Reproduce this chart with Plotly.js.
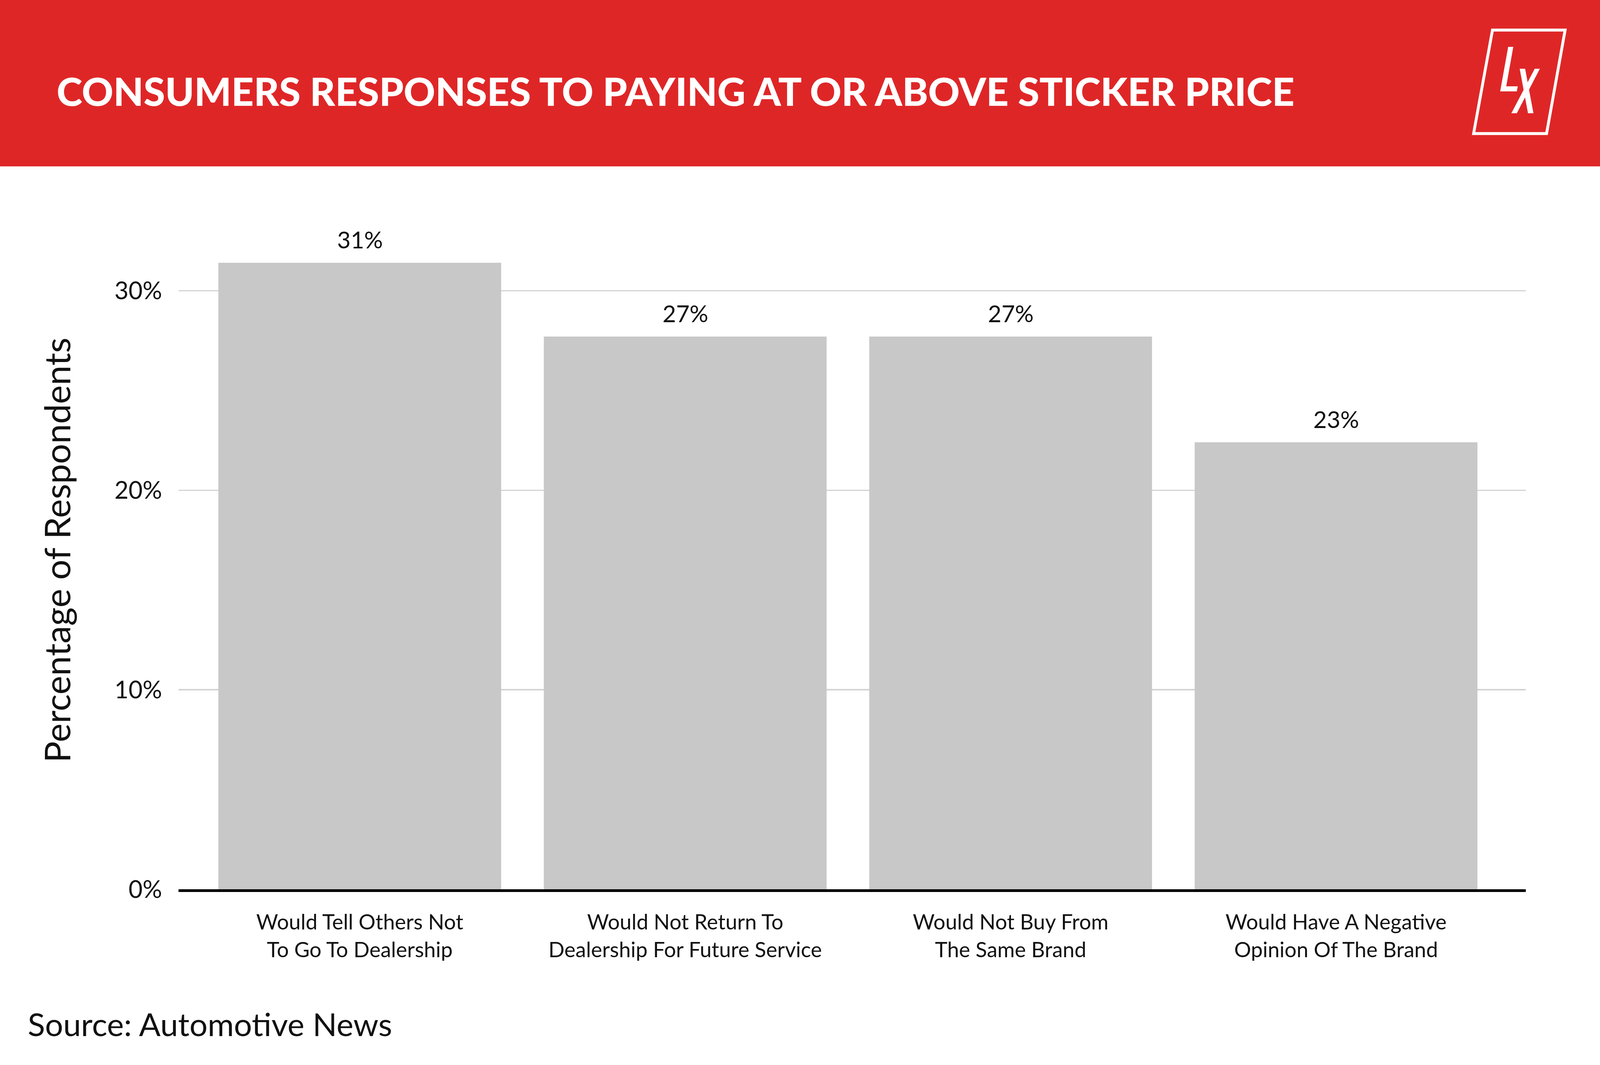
<!DOCTYPE html>
<html>
<head>
<meta charset="utf-8">
<script src="https://cdn.plot.ly/plotly-3.0.1.min.js"></script>
<style>
  html, body { margin: 0; padding: 0; background: #fff; overflow: hidden; }
</style>
</head>
<body>
<div id="chart"></div>
<script>
// data (bar heights as drawn, labels as printed)
var categories = [
  'Would Tell Others Not<br>To Go To Dealership',
  'Would Not Return To<br>Dealership For Future Service',
  'Would Not Buy From<br>The Same Brand',
  'Would Have A Negative<br>Opinion Of The Brand'
];
var values = [31.4, 27.7, 27.7, 22.4];
var valueLabels = ['31%', '27%', '27%', '23%'];
var tickValues = [0, 10, 20, 30];
var tickLabels = ['0%', '10%', '20%', '30%'];

// layout is designed on a 5000x2727 frame and scaled to the window
var W = window.innerWidth || 5000, H = window.innerHeight || 2727;
var sx = W / 5000, sy = H / 2727, s = Math.min(sx, sy);
var ml = Math.round(558 * sx), mr = Math.round(232 * sx);
var mt = Math.round(540 * sy), mb = Math.round(450 * sy);
var pw = W - ml - mr, ph = H - mt - mb;

function px(x) { return (x * sx - ml) / pw; }
function py(y) { return (H - mb - y * sy) / ph; }
function poly(pts) {
  return 'M' + pts.map(function (p) { return px(p[0]) + ',' + py(p[1]); }).join(' L') + ' Z';
}

var FONT = 'Lato, "Open Sans", sans-serif';
var RED = '#df2627';

var data = [{
  type: 'bar',
  x: categories,
  y: values,
  marker: { color: '#c8c8c8' },
  hoverinfo: 'none'
}];

var annotations = values.map(function (v, i) {
  return {
    x: categories[i], y: v, xref: 'x', yref: 'y',
    text: valueLabels[i], showarrow: false,
    yanchor: 'bottom', yshift: Math.round(22 * sy),
    font: { family: FONT, size: 73 * s, color: '#111' }
  };
});

annotations.push({
  xref: 'paper', yref: 'paper', x: px(175), y: py(232),
  xanchor: 'left', yanchor: 'middle', showarrow: false,
  text: 'CONSUMERS RESPONSES TO PAYING AT OR ABOVE STICKER PRICE',
  font: { family: FONT, size: 122 * s, color: '#fff', weight: 900 }
});
annotations.push({
  xref: 'paper', yref: 'paper', x: px(84), y: py(2621),
  xanchor: 'left', yanchor: 'middle', showarrow: false,
  text: 'Source: Automotive News',
  font: { family: FONT, size: 100 * s, color: '#111' }
});

var shapes = [
  // red header band
  { type: 'rect', xref: 'paper', yref: 'paper', layer: 'below',
    x0: px(0), x1: px(5000), y0: py(0), y1: py(426),
    fillcolor: RED, line: { width: 0 } },
  // logo frame
  { type: 'path', xref: 'paper', yref: 'paper',
    path: poly([[4664, 77], [4891, 77], [4833, 342], [4605, 342]]),
    line: { color: '#fff', width: 9 * s } },
  // logo L
  { type: 'path', xref: 'paper', yref: 'paper',
    path: poly([[4713, 120], [4729, 120], [4707, 221], [4743, 221], [4740, 234], [4688, 234]]),
    fillcolor: '#fff', line: { width: 0 } },
  // logo X
  { type: 'path', xref: 'paper', yref: 'paper',
    path: poly([[4749, 176], [4766, 176], [4792, 290], [4775, 290]]),
    fillcolor: '#fff', line: { width: 0 } },
  { type: 'path', xref: 'paper', yref: 'paper',
    path: poly([[4796, 176], [4812, 176], [4740, 290], [4723, 290]]),
    fillcolor: '#fff', line: { width: 0 } }
];

var layout = {
  width: W, height: H,
  margin: { l: ml, r: mr, t: mt, b: mb, pad: 0 },
  paper_bgcolor: '#fff', plot_bgcolor: '#fff',
  showlegend: false,
  bargap: 0.131,
  font: { family: FONT, color: '#111' },
  xaxis: {
    range: [-0.557, 3.583],
    showgrid: false, zeroline: false,
    showline: true, linecolor: '#000', linewidth: 8 * s,
    ticks: '', ticklabelstandoff: Math.round(32 * sy),
    tickfont: { family: FONT, size: 66 * s, color: '#111' }
  },
  yaxis: {
    range: [0, 34],
    tickvals: tickValues, ticktext: tickLabels,
    showgrid: true, gridcolor: '#d4d4d4', gridwidth: 4 * s,
    zeroline: false, showline: false, ticks: '',
    ticklabelstandoff: Math.round(50 * sx),
    tickfont: { family: FONT, size: 76 * s, color: '#111' },
    title: { text: 'Percentage of Respondents', standoff: Math.round(100 * sx),
             font: { family: FONT, size: 91 * sy, color: '#111' } }
  },
  annotations: annotations,
  shapes: shapes
};

Plotly.newPlot('chart', data, layout, { staticPlot: true });
</script>
</body>
</html>
